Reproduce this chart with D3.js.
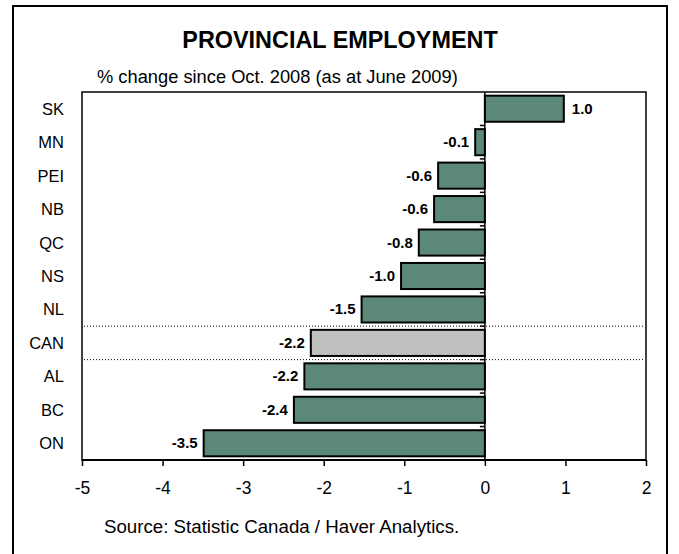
<!DOCTYPE html>
<html><head><meta charset="utf-8">
<script src="https://cdn.jsdelivr.net/npm/d3@7"></script>
<style>body{margin:0;background:#fff}svg{display:block;font-family:"Liberation Sans",Arial,sans-serif}</style>
</head><body>
<svg id="c" width="679" height="554"></svg>
<script>
const categories = ["SK","MN","PEI","NB","QC","NS","NL","CAN","AL","BC","ON"];
const values = [0.98,-0.12,-0.58,-0.63,-0.82,-1.04,-1.53,-2.16,-2.24,-2.37,-3.49];
const xTicks = [-5,-4,-3,-2,-1,0,1,2];
const highlight = "CAN";
const title = "PROVINCIAL EMPLOYMENT";
const subtitle = "% change since Oct. 2008 (as at June 2009)";
const source = "Source: Statistic Canada / Haver Analytics.";

const svg = d3.select("#c");
const m = {l:82, r:646, t:92, b:460};
const x = d3.scaleLinear().domain([-5,2]).range([m.l,m.r]);
const y = d3.scaleBand().domain(categories).range([m.t,m.b]).paddingInner(0.22).paddingOuter(0.11);
const step = y.step();
const gap = (step - y.bandwidth())/2;

svg.append("rect").attr("x",13).attr("y",6).attr("width",654).attr("height",560)
  .attr("fill","#fff").attr("stroke","#000").attr("stroke-width",2);

svg.append("text").attr("x",340).attr("y",48).attr("text-anchor","middle")
  .attr("font-size",23.4).attr("font-weight","bold").text(title);
svg.append("text").attr("x",97).attr("y",83).attr("font-size",18.3).text(subtitle);

// plot frame
svg.append("rect").attr("x",m.l).attr("y",m.t).attr("width",m.r-m.l).attr("height",m.b-m.t)
  .attr("fill","none").attr("stroke","#000").attr("stroke-width",1.5);

// dotted separators around CAN
const ci = categories.indexOf(highlight);
[ci, ci+1].forEach(i=>{
  const yy = y(categories[i]) - gap;
  svg.append("line").attr("x1",m.l+2).attr("x2",m.r-2).attr("y1",yy).attr("y2",yy)
    .attr("stroke","#000").attr("stroke-width",1).attr("stroke-dasharray","1,2");
});

// bars
svg.selectAll("rect.bar").data(categories).enter().append("rect").attr("class","bar")
  .attr("x",(d,i)=>x(Math.min(0,values[i])))
  .attr("width",(d,i)=>Math.abs(x(values[i])-x(0)))
  .attr("y",d=>y(d)).attr("height",y.bandwidth())
  .attr("fill",d=>d===highlight?"#C0C0C0":"#5B8877")
  .attr("stroke","#000").attr("stroke-width",2);

// zero axis line with small ticks
svg.append("line").attr("x1",x(0)).attr("x2",x(0)).attr("y1",m.t).attr("y2",m.b)
  .attr("stroke","#000").attr("stroke-width",1.5);
categories.forEach((d,i)=>{
  if(i===0) return;
  const yy = y(d) - gap;
  svg.append("line").attr("x1",x(0)-5).attr("x2",x(0)).attr("y1",yy).attr("y2",yy)
    .attr("stroke","#000").attr("stroke-width",1.5);
});

// value labels
svg.selectAll("text.val").data(categories).enter().append("text").attr("class","val")
  .attr("x",(d,i)=>values[i]<0? x(values[i])-6 : x(values[i])+8)
  .attr("y",d=>y(d)+y.bandwidth()/2+5)
  .attr("text-anchor",(d,i)=>values[i]<0?"end":"start")
  .attr("font-size",15).attr("font-weight","bold")
  .text((d,i)=>values[i].toFixed(1));

// category labels
svg.selectAll("text.cat").data(categories).enter().append("text").attr("class","cat")
  .attr("x",64).attr("y",d=>y(d)+y.bandwidth()/2+6)
  .attr("text-anchor","end").attr("font-size",16.5).text(d=>d);

// x axis
const ax = svg.append("g").attr("transform",`translate(0,${m.b})`)
  .call(d3.axisBottom(x).tickValues(xTicks).tickSize(6).tickPadding(16).tickFormat(d=>String(d)));
ax.select(".domain").attr("stroke-width",2).attr("d",`M${m.l},0H${m.r}`);
ax.selectAll(".tick line").attr("stroke-width",1.5);
ax.selectAll("text").attr("font-size",17.5).attr("font-family","'Liberation Sans',Arial,sans-serif");

svg.append("text").attr("x",104).attr("y",533).attr("font-size",18.7).text(source);
</script>
</body></html>
